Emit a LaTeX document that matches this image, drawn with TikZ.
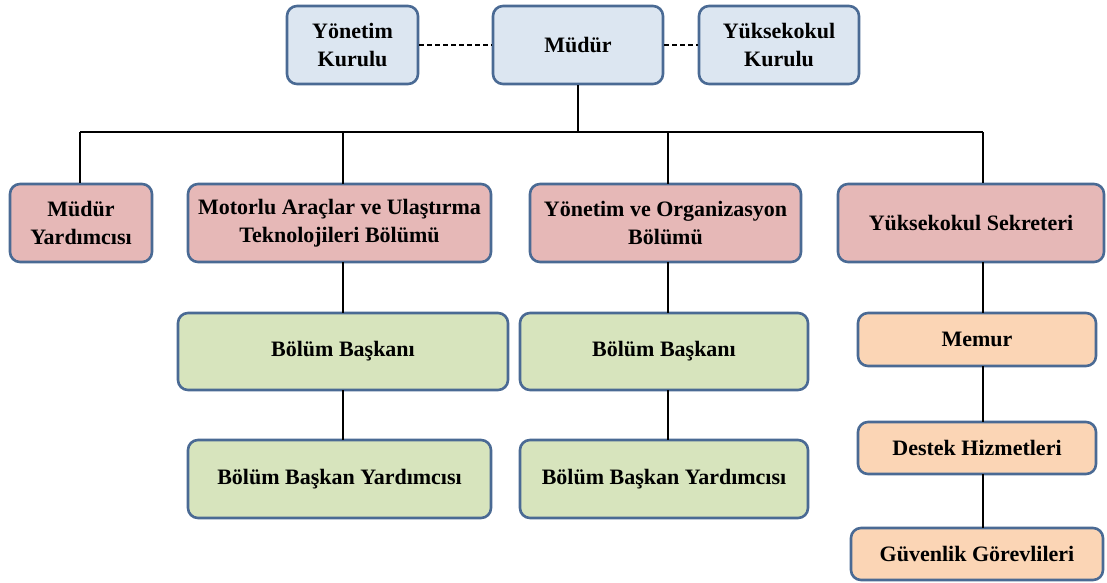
\documentclass[tikz,border=0pt]{standalone}
\usepackage{fontspec}
\setmainfont{Liberation Serif}
\definecolor{bordc}{HTML}{4A6A94}
\definecolor{bluef}{HTML}{DCE6F1}
\definecolor{pinkf}{HTML}{E6B8B7}
\definecolor{greenf}{HTML}{D7E4BD}
\definecolor{peachf}{HTML}{FBD5B5}
\begin{document}
\begin{tikzpicture}[x=1pt,y=-1pt,
  box/.style={draw=bordc,line width=2.6pt,rounded corners=10pt,align=center,
    font=\fontsize{22}{28.5}\selectfont\bfseries,inner sep=0pt},
  bluebox/.style={box,fill=bluef},
  pinkbox/.style={box,fill=pinkf},
  greenbox/.style={box,fill=greenf},
  peachbox/.style={box,fill=peachf},
  conn/.style={line width=1.5pt,black},
  dconn/.style={line width=1.5pt,black,dash pattern=on 5pt off 3pt}]
\useasboundingbox (0,0) rectangle (1107,582);
% helper: box from corners
\newcommand{\mybox}[6]{\node[#1,minimum width=#4-#2,minimum height=#5-#3] (#6) at ({(#2+#4)/2},{(#3+#5)/2})}
\mybox{bluebox}{287}{6}{418}{84}{yk} {Yönetim\\Kurulu};
\mybox{bluebox}{493}{6}{663}{84}{mud} {Müdür};
\mybox{bluebox}{699}{6}{859}{84}{ykk} {Yüksekokul\\Kurulu};
\mybox{pinkbox}{10}{184}{152}{262}{my} {Müdür\\Yardımcısı};
\mybox{pinkbox}{188}{184}{491}{262}{mot} {Motorlu Araçlar ve Ulaştırma\\Teknolojileri Bölümü};
\mybox{pinkbox}{530}{184}{801}{262}{yo} {Yönetim ve Organizasyon\\Bölümü};
\mybox{pinkbox}{838}{184}{1104}{262}{ys} {Yüksekokul Sekreteri};
\mybox{greenbox}{178}{313}{508}{390}{bb1} {Bölüm Başkanı};
\mybox{greenbox}{520}{313}{808}{390}{bb2} {Bölüm Başkanı};
\mybox{greenbox}{188}{440}{491}{518}{by1} {Bölüm Başkan Yardımcısı};
\mybox{greenbox}{520}{440}{808}{518}{by2} {Bölüm Başkan Yardımcısı};
\mybox{peachbox}{858}{313}{1096}{366}{mem} {Memur};
\mybox{peachbox}{858}{422}{1096}{474}{dh} {Destek Hizmetleri};
\mybox{peachbox}{851}{528}{1103}{580}{gg} {Güvenlik Görevlileri};
% dashed links
\draw[dconn] (yk.east) -- (mud.west);
\draw[dconn] (mud.east) -- (ykk.west);
% tree
\coordinate (hub) at (578,132);
\coordinate (hl) at (80,132);
\coordinate (hr) at (983,132);
\draw[conn] (mud.south -| hub) -- (hub);
\draw[conn] (hl) -- (hr);
\draw[conn] (hl) -- (hl |- my.north);
\draw[conn] (343,132) -- (343,184);
\draw[conn] (668,132) -- (668,184);
\draw[conn] (hr) -- (hr |- ys.north);
\draw[conn] (343,262) -- (343,313);
\draw[conn] (343,390) -- (343,440);
\draw[conn] (668,262) -- (668,313);
\draw[conn] (668,390) -- (668,440);
\draw[conn] (983,262) -- (983,313);
\draw[conn] (983,366) -- (983,422);
\draw[conn] (983,474) -- (983,528);
\end{tikzpicture}
\end{document}
